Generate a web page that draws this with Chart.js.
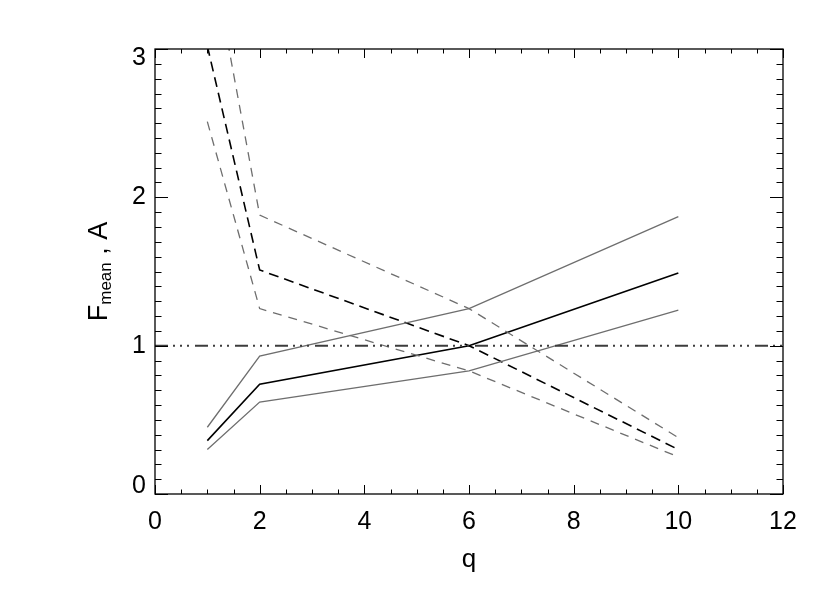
<!DOCTYPE html>
<html>
<head>
<meta charset="utf-8">
<script src="https://cdn.jsdelivr.net/npm/chart.js@4"></script>
<style>
  html, body { margin: 0; padding: 0; background: #fff; }
  #wrap { width: 830px; height: 593px; }
</style>
</head>
<body>
<div id="wrap"><canvas id="myChart" width="830" height="593"></canvas></div>
<script>
// q values where the curves were sampled
const q = [1, 2, 6, 10];
// solid curves (mean and its band)
const fMean = [0.36, 0.74, 1.00, 1.49];
const fUpper = [0.45, 0.93, 1.25, 1.87];
const fLower = [0.30, 0.62, 0.83, 1.24];
// dashed curves (mean and its band)
const aMean = [3.02, 1.51, 1.00, 0.30];
const aUpper = [3.79, 1.88, 1.25, 0.38];
const aLower = [2.51, 1.25, 0.83, 0.25];
// reference line
const refX = [0, 12];
const refY = [1, 1];
// axis ticks
const xTicks = [0, 2, 4, 6, 8, 10, 12];
const yTicks = [0, 1, 2, 3];

const GRAY = '#6e6e6e';
const FONT = 'Liberation Sans, Arial, Helvetica, sans-serif';

function pts(xs, ys) {
    return xs.map((x, i) => ({ x: x, y: ys[i] }));
}

function line(vals, color, width, dash) {
    return {
        data: pts(q, vals),
        borderColor: color,
        backgroundColor: color,
        borderWidth: width,
        borderDash: dash,
        pointRadius: 0,
        tension: 0,
        fill: false
    };
}

// IDL-like frame: box with inward major/minor ticks on all sides, plus y title with subscript
const frame = {
    id: 'frame',
    beforeDraw(chart) {
        const ys = chart.scales.y;
        if (ys.getLabelItems) {
            const items = ys.getLabelItems();
            items.forEach(it => {
                if (it._moved) return;
                if (it.label === '0') it.options.translation[1] -= 8;
                if (it.label === '3') it.options.translation[1] += 9;
                it._moved = true;
            });
        }
    },
    afterDraw(chart) {
        const ctx = chart.ctx;
        const a = chart.chartArea;
        const xs = chart.scales.x, ys = chart.scales.y;
        ctx.save();
        ctx.strokeStyle = '#000';
        ctx.lineWidth = 1.3;
        ctx.strokeRect(a.left, a.top, a.right - a.left, a.bottom - a.top);
        ctx.lineWidth = 1;
        ctx.beginPath();
        for (let i = 0; i <= 24; i++) {
            const v = i * 0.5;
            const px = Math.round(xs.getPixelForValue(v)) + 0.5;
            const len = (i % 4 === 0) ? 9 : 4.5;
            ctx.moveTo(px, a.bottom); ctx.lineTo(px, a.bottom - len);
            ctx.moveTo(px, a.top); ctx.lineTo(px, a.top + len);
        }
        for (let i = 0; i <= 30; i++) {
            const v = i / 10;
            const py = Math.round(ys.getPixelForValue(v)) + 0.5;
            const len = (i % 10 === 0) ? 13 : 6.5;
            ctx.moveTo(a.left, py); ctx.lineTo(a.left + len, py);
            ctx.moveTo(a.right, py); ctx.lineTo(a.right - len, py);
        }
        ctx.stroke();

        // y axis title: F_mean , A
        const cy = (a.top + a.bottom) / 2;
        ctx.translate(107, cy);
        ctx.rotate(-Math.PI / 2);
        ctx.fillStyle = '#000';
        ctx.textBaseline = 'alphabetic';
        ctx.textAlign = 'left';
        const big = '27px ' + FONT, small = '17px ' + FONT;
        ctx.font = big; const wF = ctx.measureText('F').width;
        const wA = ctx.measureText(' , A').width;
        ctx.font = small; const wM = ctx.measureText('mean').width;
        let x0 = -(wF + wM + wA) / 2;
        ctx.font = big; ctx.fillText('F', x0, 0);
        ctx.font = small; ctx.fillText('mean', x0 + wF, 4);
        ctx.font = big; ctx.fillText(' , A', x0 + wF + wM, 0);
        ctx.restore();
    }
};

const ctx = document.getElementById('myChart').getContext('2d');
const myChart = new Chart(ctx, {
    type: 'line',
    data: {
        datasets: [
            {
                data: pts(refX, refY),
                borderColor: '#3c3c3c',
                borderWidth: 2,
                borderDash: [13, 5, 2, 5, 2, 5, 2, 6],
                pointRadius: 0,
                fill: false
            },
            line(fUpper, GRAY, 1.3, []),
            line(fLower, GRAY, 1.3, []),
            line(aUpper, GRAY, 1.3, [9, 7]),
            line(aLower, GRAY, 1.3, [9, 7]),
            line(fMean, '#000', 1.6, []),
            line(aMean, '#000', 1.6, [10, 6])
        ]
    },
    plugins: [frame],
    options: {
        responsive: false,
        animation: false,
        layout: { padding: { top: 49, right: 47, left: 0, bottom: 0 } },
        plugins: { legend: { display: false }, tooltip: { enabled: false } },
        scales: {
            x: {
                type: 'linear',
                min: 0,
                max: 12,
                afterBuildTicks: s => { s.ticks = xTicks.map(v => ({ value: v })); },
                afterFit: s => { s.height = 99; },
                grid: { display: false, drawTicks: false },
                border: { display: false },
                ticks: { color: '#000', font: { family: FONT, size: 25 }, padding: 13, maxRotation: 0 },
                title: { display: true, text: 'q', color: '#000', font: { family: FONT, size: 26 }, padding: { top: 0, bottom: 18 } }
            },
            y: {
                type: 'linear',
                min: 0,
                max: 3,
                afterBuildTicks: s => { s.ticks = yTicks.map(v => ({ value: v })); },
                afterFit: s => { s.width = 155; },
                grid: { display: false, drawTicks: false },
                border: { display: false },
                ticks: { color: '#000', font: { family: FONT, size: 25 }, padding: 9 }
            }
        }
    }
});
</script>
</body>
</html>
